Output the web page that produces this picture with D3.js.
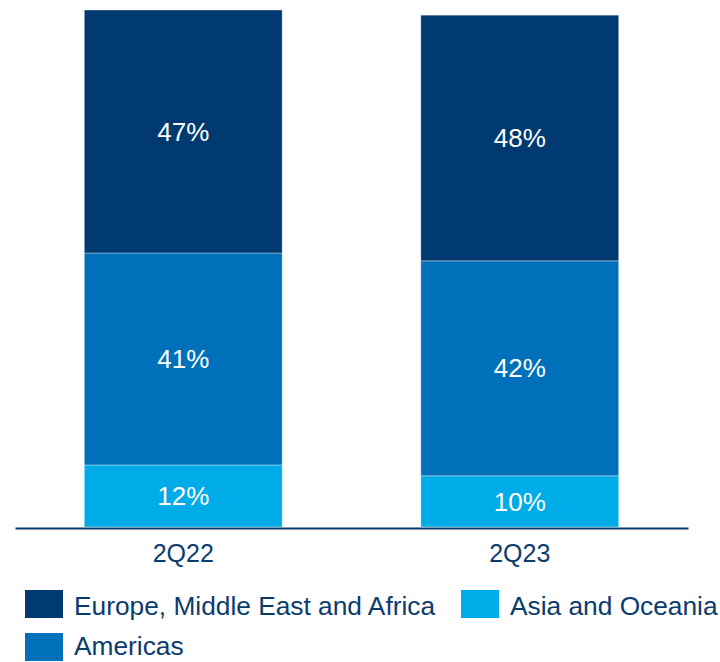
<!DOCTYPE html>
<html>
<head>
<meta charset="utf-8">
<script src="https://cdn.jsdelivr.net/npm/d3@7"></script>
<style>
  html, body { margin: 0; padding: 0; background: #ffffff; }
  svg { display: block; font-family: "Liberation Sans", Arial, sans-serif; }
</style>
</head>
<body>
<svg id="chart" width="720" height="662"></svg>
<script>
// Quarters shown on the x axis
const quarters = ["2Q22", "2Q23"];
// Regions, stacked from the baseline upward
const regions = ["Asia and Oceania", "Americas", "Europe, Middle East and Africa"];
// Regional share of each quarter, in percent
const asiaShare = [12, 10];
const americasShare = [41, 42];
const emeaShare = [47, 48];
// Relative size of each quarter's bar (2Q22 = 100)
const quarterTotals = [100, 99];

const regionColors = {
  "Europe, Middle East and Africa": "#003a70",
  "Americas": "#0070ba",
  "Asia and Oceania": "#00ace8"
};
const textNavy = "#0b3c6e";

const svg = d3.select("#chart");

const x = d3.scaleBand()
  .domain(quarters)
  .range([15, 688])
  .paddingInner(0.412)
  .paddingOuter(0.206);

const y = d3.scaleLinear()
  .domain([0, 100])
  .range([527, 10]);

// Build rows for the stack: each share scaled by the quarter's total
const shares = {
  "Asia and Oceania": asiaShare,
  "Americas": americasShare,
  "Europe, Middle East and Africa": emeaShare
};
const rows = quarters.map((q, i) => {
  const row = { quarter: q };
  regions.forEach(r => { row[r] = shares[r][i] * quarterTotals[i] / 100; });
  row.pct = {};
  regions.forEach(r => { row.pct[r] = shares[r][i]; });
  return row;
});

const series = d3.stack().keys(regions)(rows);

const layers = svg.append("g").selectAll("g")
  .data(series)
  .join("g")
  .attr("fill", d => regionColors[d.key]);

layers.selectAll("rect")
  .data(d => d.map(v => ({ key: d.key, v })))
  .join("rect")
  .attr("x", d => x(d.v.data.quarter))
  .attr("width", x.bandwidth())
  .attr("y", d => y(d.v[1]))
  .attr("height", d => y(d.v[0]) - y(d.v[1]))
  .attr("stroke", "#ffffff")
  .attr("stroke-opacity", 0.35)
  .attr("stroke-width", 1);

// Percentage labels centred in each segment
layers.selectAll("text")
  .data(d => d.map(v => ({ key: d.key, v })))
  .join("text")
  .attr("x", d => x(d.v.data.quarter) + x.bandwidth() / 2)
  .attr("y", d => (y(d.v[0]) + y(d.v[1])) / 2)
  .attr("dy", "0.35em")
  .attr("text-anchor", "middle")
  .attr("fill", "#ffffff")
  .attr("font-size", 26)
  .text(d => d.v.data.pct[d.key] + "%");

// Baseline axis with quarter labels
const xAxis = d3.axisBottom(x).tickSize(0).tickPadding(0);
const axisG = svg.append("g")
  .attr("transform", `translate(0,${y(0) + 1})`)
  .call(xAxis);
axisG.select(".domain")
  .attr("stroke", "#0b3c6e")
  .attr("stroke-width", 2);
axisG.selectAll(".tick text")
  .attr("fill", textNavy)
  .attr("font-size", 25)
  .attr("font-family", "Liberation Sans, Arial, sans-serif")
  .attr("dy", 0)
  .attr("y", 34);

// Legend
const legendItems = [
  { key: "Europe, Middle East and Africa", x: 25, y: 590, ty: 25 },
  { key: "Asia and Oceania", x: 461, y: 590, ty: 25 },
  { key: "Americas", x: 25, y: 633, ty: 22 }
];
const legend = svg.append("g").selectAll("g")
  .data(legendItems)
  .join("g")
  .attr("transform", d => `translate(${d.x},${d.y})`);
legend.append("rect")
  .attr("width", 38)
  .attr("height", 28)
  .attr("fill", d => regionColors[d.key]);
legend.append("text")
  .attr("x", 49)
  .attr("y", d => d.ty)
  .attr("fill", textNavy)
  .attr("font-size", 26.3)
  .text(d => d.key);
</script>
</body>
</html>
